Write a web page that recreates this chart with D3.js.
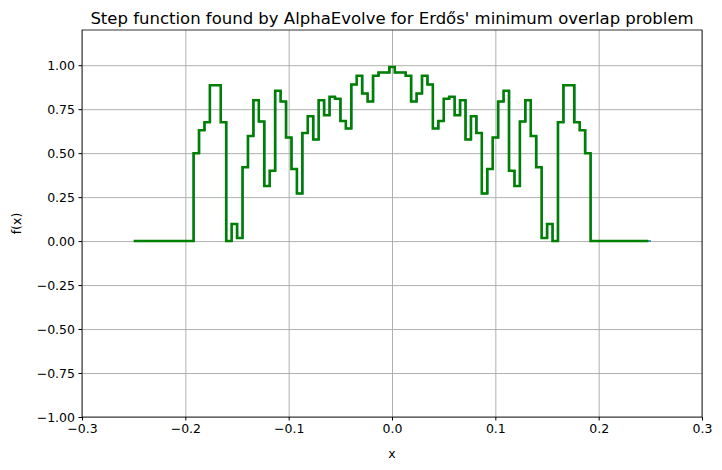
<!DOCTYPE html>
<meta charset="utf-8">
<style>
  body{margin:0;background:#fff;}
  text{font-family:"DejaVu Sans",sans-serif;fill:#000;}
  .grid line{stroke:#a8a8a8;stroke-width:0.9;}
  .grid path{display:none;}
</style>
<body>
<svg width="722" height="470" id="chart"></svg>
<script src="https://d3js.org/d3.v7.min.js"></script>
<script>
// left half of the step values (index 0..47), mirrored for the right half
var leftVals = [0,0,0,0,0,0,0,0,0,0,0,
  0.50,0.63,0.676,0.886,0.886,0.676,0,0.097,0.017,0.42,0.597,0.80,0.68,0.313,0.40,
  0.854,0.794,0.589,0.41,0.271,0.615,0.71,0.578,0.80,0.716,0.82,0.809,0.682,0.64,
  0.89,0.94,0.839,0.794,0.94,0.958,0.958,0.99];
var nSteps = 95, xLo = -0.25, xHi = 0.25;
var xTicks = [-0.3,-0.2,-0.1,0.0,0.1,0.2,0.3];
var yTicks = [-1.00,-0.75,-0.50,-0.25,0.00,0.25,0.50,0.75,1.00];

var vals = leftVals.concat(leftVals.slice(0,47).reverse());
var w = (xHi - xLo) / nSteps;
var pts = vals.map(function(v,i){ return [xLo + i*w, v]; });
pts.push([xHi, vals[vals.length-1]]);

var svg = d3.select("#chart");
var m = {l:82, r:20, t:30, b:53};
var W = 722, H = 470;
var x = d3.scaleLinear().domain([-0.3,0.3]).range([m.l, W-m.r]);
var y = d3.scaleLinear().domain([-1,1.2]).range([H-m.b, m.t]);

svg.append("g").attr("class","grid")
  .attr("transform","translate(0,"+(H-m.b)+")")
  .call(d3.axisBottom(x).tickValues(xTicks).tickSize(-(H-m.b-m.t)).tickFormat(""));
svg.append("g").attr("class","grid")
  .attr("transform","translate("+m.l+",0)")
  .call(d3.axisLeft(y).tickValues(yTicks).tickSize(-(W-m.r-m.l)).tickFormat(""));

var line = d3.line().x(function(d){return x(d[0]);}).y(function(d){return y(d[1]);})
  .curve(d3.curveStepAfter);
svg.append("path").datum(pts).attr("d",line)
  .attr("fill","none").attr("stroke","#1f77b4").attr("stroke-width",1.5)
  .attr("transform","translate(0.6,0)");
svg.append("path").datum(pts.slice(0,-1).concat([[xHi-0.002, vals[vals.length-1]]])).attr("d",line)
  .attr("fill","none").attr("stroke","#008000").attr("stroke-width",2.5);

var ax = svg.append("g").attr("transform","translate(0,"+(H-m.b)+")")
  .call(d3.axisBottom(x).tickValues(xTicks).tickSize(3.5).tickPadding(3.5).tickFormat(d3.format(".1f")));
var ay = svg.append("g").attr("transform","translate("+m.l+",0)")
  .call(d3.axisLeft(y).tickValues(yTicks).tickSize(3.5).tickPadding(3.5).tickFormat(d3.format(".2f")));
[ax,ay].forEach(function(a){
  a.selectAll("text").style("font-size","12.5px").attr("font-family","DejaVu Sans");
  a.select(".domain").remove();
});
svg.append("rect").attr("x",m.l).attr("y",m.t).attr("width",W-m.l-m.r).attr("height",H-m.t-m.b)
  .attr("fill","none").attr("stroke","#000").attr("stroke-width",0.8);

svg.append("text").attr("x",(m.l+W-m.r)/2).attr("y",24).attr("text-anchor","middle")
  .style("font-size","16.5px").text("Step function found by AlphaEvolve for Erdős' minimum overlap problem");
svg.append("text").attr("x",(m.l+W-m.r)/2).attr("y",458).attr("text-anchor","middle")
  .style("font-size","12.5px").text("x");
svg.append("text").attr("transform","translate(21,"+((m.t+H-m.b)/2)+") rotate(-90)")
  .attr("text-anchor","middle").style("font-size","12.5px").text("f(x)");
</script>
</body>
